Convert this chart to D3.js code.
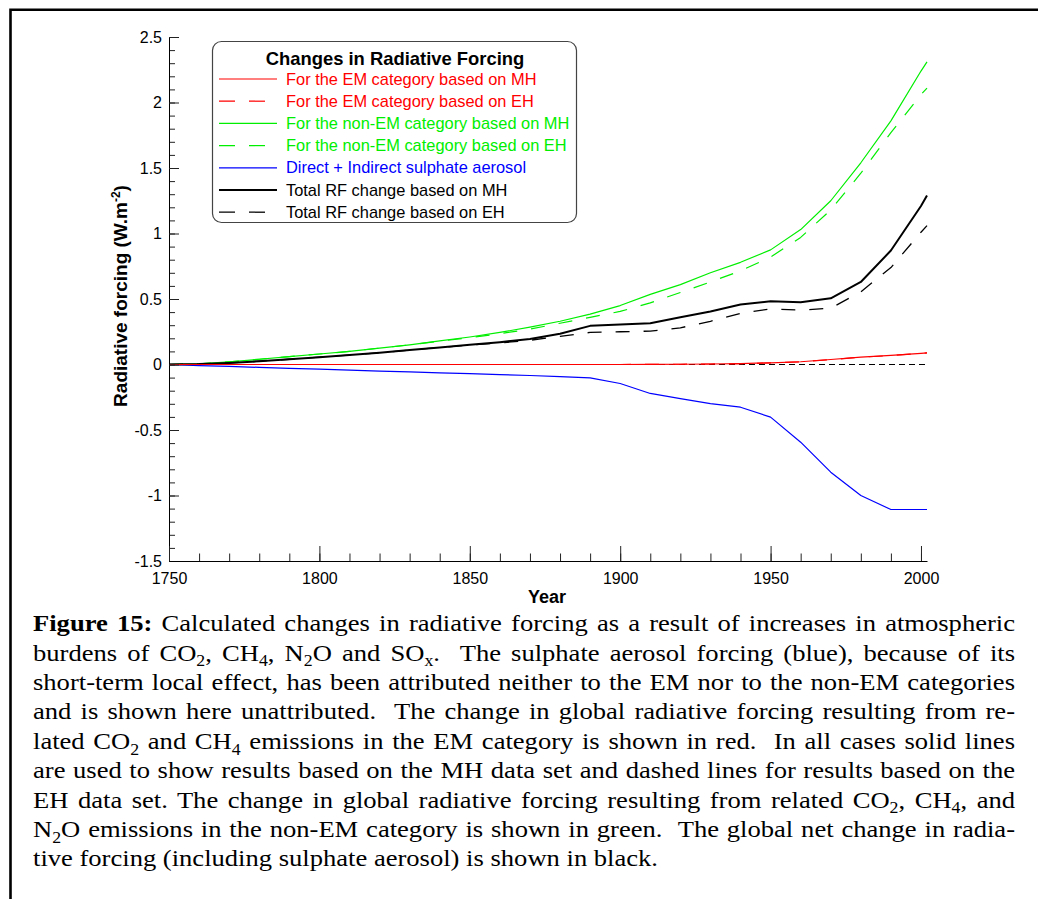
<!DOCTYPE html>
<html>
<head>
<meta charset="utf-8">
<script src="https://cdn.jsdelivr.net/npm/d3@7"></script>
<style>
body { margin: 0; background: #fff; }
#wrap { position: relative; width: 1038px; height: 899px; overflow: hidden; }
#wrap svg { position: absolute; left: 0; top: 0; }
.caption {
    position: absolute; left: 33px;
    transform-origin: 0 0;
    line-height: 29.4px; color: #000;
}
.caption div { white-space: nowrap; height: 29.4px; }
.caption div span.ln { display: inline-block; }
.caption .sub { font-size: 0.67em; position: relative; top: 0.36em; }
</style>
</head>
<body>
<div id="wrap"></div>
<script>
// Jahre und Reihen (W/m2)
const years = [1750, 1760, 1770, 1780, 1790, 1800, 1810, 1820, 1830, 1840, 1850, 1860, 1870,
    1880, 1890, 1900, 1910, 1920, 1930, 1940, 1950, 1960, 1970, 1980, 1990, 2000, 2002];

const emMH = [0, 0, 0, 0, 0, 0, 0, 0, 0, 0, 0, 0, 0,
    0, 0, 0, 0.001, 0.002, 0.004, 0.007, 0.013, 0.021, 0.038, 0.057, 0.069, 0.085, 0.089];
const emEH = [0, 0, 0, 0, 0, 0, 0, 0, 0, 0, 0, 0, 0,
    0, 0, 0, 0.001, 0.002, 0.004, 0.006, 0.012, 0.020, 0.037, 0.056, 0.068, 0.084, 0.088];
const nonEmMH = [0, 0.005, 0.02, 0.04, 0.06, 0.08, 0.10, 0.125, 0.15, 0.18, 0.21, 0.245, 0.285,
    0.33, 0.385, 0.45, 0.535, 0.61, 0.70, 0.78, 0.875, 1.03, 1.25, 1.54, 1.86, 2.24, 2.31];
const nonEmEH = [0, 0.005, 0.02, 0.04, 0.06, 0.08, 0.10, 0.125, 0.15, 0.178, 0.205, 0.235, 0.27,
    0.315, 0.36, 0.405, 0.47, 0.55, 0.63, 0.715, 0.82, 0.97, 1.18, 1.46, 1.77, 2.06, 2.11];
const sulphate = [0, -0.008, -0.015, -0.022, -0.03, -0.036, -0.043, -0.05, -0.057, -0.064, -0.07, -0.077, -0.084,
    -0.092, -0.102, -0.145, -0.221, -0.26, -0.298, -0.326, -0.402, -0.593, -0.822, -1.0, -1.107, -1.107, -1.107];
const totalMH = [0, 0.003, 0.012, 0.025, 0.04, 0.056, 0.072, 0.09, 0.11, 0.13, 0.15, 0.17, 0.195,
    0.235, 0.295, 0.305, 0.315, 0.36, 0.405, 0.458, 0.483, 0.475, 0.505, 0.63, 0.87, 1.21, 1.29];
const totalEH = [0, 0.003, 0.012, 0.025, 0.04, 0.056, 0.072, 0.09, 0.11, 0.13, 0.148, 0.165, 0.185,
    0.215, 0.245, 0.25, 0.255, 0.28, 0.33, 0.39, 0.425, 0.415, 0.43, 0.555, 0.74, 1.01, 1.06];

const xTicks = [1750, 1800, 1850, 1900, 1950, 2000];
const yTicks = [-1.5, -1, -0.5, 0, 0.5, 1, 1.5, 2, 2.5];

const legendTitle = "Changes in Radiative Forcing";

// Zeichenreihenfolge: unten zuerst
const series = [
    { label: "For the non-EM category based on EH", values: nonEmEH, color: "#00ee00", width: 1.2, dash: "14,14", order: 3 },
    { label: "For the non-EM category based on MH", values: nonEmMH, color: "#00ee00", width: 1.2, dash: null, order: 2 },
    { label: "Direct + Indirect sulphate aerosol", values: sulphate, color: "#0000ff", width: 1.2, dash: null, order: 4 },
    { label: "Total RF change based on EH", values: totalEH, color: "#000", width: 1.3, dash: "14,14", order: 6 },
    { label: "Total RF change based on MH", values: totalMH, color: "#000", width: 2, dash: null, order: 5 },
    { label: "For the EM category based on EH", values: emEH, color: "#ff0000", width: 1.2, dash: "14,14", order: 1 },
    { label: "For the EM category based on MH", values: emMH, color: "#ff0000", width: 1.2, dash: null, order: 0 }
];

const W = 1038, H = 899;
const svg = d3.select("#wrap").append("svg")
    .attr("width", W)
    .attr("height", H);

// Rahmen links und oben
svg.append("path")
    .attr("d", "M10.5,899 V9.7 H1038")
    .attr("fill", "none")
    .attr("stroke", "#000")
    .attr("stroke-width", 2.6);

const x = d3.scaleLinear().domain([1750, 2002]).range([169, 927]);
const y = d3.scaleLinear().domain([-1.5, 2.5]).range([561, 37]);

// Nulllinie gestrichelt
svg.append("line")
    .attr("x1", x(1750)).attr("x2", x(2002))
    .attr("y1", y(0)).attr("y2", y(0))
    .attr("stroke", "#000")
    .attr("stroke-width", 1)
    .attr("stroke-dasharray", "6,4");

const line = d3.line()
    .x(d => x(d[0]))
    .y(d => y(d[1]));

svg.append("g").selectAll("path")
    .data(series)
    .enter()
    .append("path")
    .attr("d", s => line(years.map((yr, i) => [yr, s.values[i]])))
    .attr("fill", "none")
    .attr("stroke", s => s.color)
    .attr("stroke-width", s => s.width)
    .attr("stroke-dasharray", s => s.dash)
    .attr("stroke-linejoin", "round");

// Achsen
const font = "'Liberation Sans', Arial, sans-serif";

const yMinor = svg.append("g")
    .attr("transform", `translate(${x(1750)},0)`)
    .call(d3.axisLeft(y).tickValues(d3.range(-1.5, 2.51, 0.1)).tickSize(-6).tickFormat(""));
yMinor.select(".domain").remove();

svg.append("g")
    .attr("transform", `translate(${x(1750)},0)`)
    .call(d3.axisLeft(y).tickValues(yTicks).tickSizeInner(-10).tickSizeOuter(0).tickPadding(7)
        .tickFormat(d => String(d)));

const xMinor = svg.append("g")
    .attr("transform", `translate(0,${y(-1.5)})`)
    .call(d3.axisBottom(x).tickValues(d3.range(1750, 2001, 10)).tickSize(-7.5).tickFormat(""));
xMinor.select(".domain").remove();

svg.append("g")
    .attr("transform", `translate(0,${y(-1.5)})`)
    .call(d3.axisBottom(x).tickValues(xTicks).tickSizeInner(-15).tickSizeOuter(0).tickPadding(12)
        .tickFormat(d => String(d)));

svg.selectAll(".tick line").attr("stroke", "#222");
svg.selectAll(".tick text")
    .attr("font-family", font)
    .attr("font-size", 16)
    .attr("fill", "#000");

// Achsentitel
svg.append("text")
    .attr("x", 547)
    .attr("y", 603)
    .attr("text-anchor", "middle")
    .attr("font-family", font)
    .attr("font-weight", "bold")
    .attr("font-size", 18)
    .text("Year");

const yTitle = svg.append("text")
    .attr("transform", "translate(127,296) rotate(-90)")
    .attr("text-anchor", "middle")
    .attr("font-family", font)
    .attr("font-weight", "bold")
    .attr("font-size", 19);
yTitle.append("tspan").text("Radiative forcing (W.m");
yTitle.append("tspan").attr("font-size", 12).attr("dy", -7).text("-2");
yTitle.append("tspan").attr("dy", 7).text(")");

// Legende
const legend = svg.append("g");
legend.append("rect")
    .attr("x", 212.5).attr("y", 41.5)
    .attr("width", 364).attr("height", 181)
    .attr("rx", 9)
    .attr("fill", "#fff")
    .attr("stroke", "#444")
    .attr("stroke-width", 1.2);

legend.append("text")
    .attr("x", 395).attr("y", 65)
    .attr("text-anchor", "middle")
    .attr("font-family", font)
    .attr("font-weight", "bold")
    .attr("font-size", 18.4)
    .text(legendTitle);

const rows = legend.selectAll(".row")
    .data(series.slice().sort((a, b) => a.order - b.order))
    .enter()
    .append("g")
    .attr("class", "row")
    .attr("transform", (d, i) => `translate(0,${79 + i * 22.2})`);

rows.append("line")
    .attr("x1", 219).attr("x2", 277)
    .attr("stroke", d => d.color)
    .attr("stroke-width", d => d.width)
    .attr("stroke-dasharray", d => d.dash ? "16,14" : null);

rows.append("text")
    .attr("x", 286).attr("y", 5.5)
    .attr("font-family", font)
    .attr("font-size", 16.4)
    .attr("fill", d => d.color)
    .text(d => d.label);

// Bildunterschrift (Blocksatz: Wortabstand je Zeile)
const captionLines = [
    "<b>Figure 15:</b> Calculated changes in radiative forcing as a result of increases in atmospheric",
    "burdens of CO<span class='sub'>2</span>, CH<span class='sub'>4</span>, N<span class='sub'>2</span>O and SO<span class='sub'>x</span>.&nbsp; The sulphate aerosol forcing (blue), because of its",
    "short-term local effect, has been attributed neither to the EM nor to the non-EM categories",
    "and is shown here unattributed.&nbsp; The change in global radiative forcing resulting from re-",
    "lated CO<span class='sub'>2</span> and CH<span class='sub'>4</span> emissions in the EM category is shown in red.&nbsp; In all cases solid lines",
    "are used to show results based on the MH data set and dashed lines for results based on the",
    "EH data set. The change in global radiative forcing resulting from related CO<span class='sub'>2</span>, CH<span class='sub'>4</span>, and",
    "N<span class='sub'>2</span>O emissions in the non-EM category is shown in green.&nbsp; The global net change in radia-",
    "tive forcing (including sulphate aerosol) is shown in black."
];

// Times-kompatible Schrift vorhanden? Sonst DejaVu Serif etwas kleiner
function hasFont(name) {
    const ctx = document.createElement("canvas").getContext("2d");
    const probe = "abcdefghijklmnopqrstuvwxyz ABCDEFGHIJKLMNOPQRSTUVWXYZ 0123456789";
    ctx.font = "40px monospace";
    const a = ctx.measureText(probe).width;
    ctx.font = `40px "${name}", monospace`;
    return Math.abs(ctx.measureText(probe).width - a) > 0.5;
}
const timesLike = ["Liberation Serif", "Times New Roman", "Times"].find(hasFont);
const capFont = timesLike ? `"${timesLike}", serif` : `"DejaVu Serif", serif`;
const capSize = timesLike ? 24 : 20.5;
const firstBaseline = 632;

const caption = d3.select("#wrap").append("div")
    .attr("class", "caption")
    .style("font-family", capFont)
    .style("font-size", capSize + "px");

const spans = caption.selectAll("div")
    .data(captionLines)
    .enter()
    .append("div")
    .append("span")
    .attr("class", "ln")
    .html(d => d);

// Grundlinie der ersten Zeile ausrichten
const probeCtx = document.createElement("canvas").getContext("2d");
probeCtx.font = `${capSize}px ${capFont}`;
const m = probeCtx.measureText("Hg");
const asc = m.fontBoundingBoxAscent, desc = m.fontBoundingBoxDescent;
const baseOffset = (29.4 - (asc + desc)) / 2 + asc;
caption.style("top", (firstBaseline - baseOffset) + "px");

const widths = spans.nodes().map(n => n.getBoundingClientRect().width);
const scale = 625 / widths[widths.length - 1];
const fullWidth = 982 / scale;
caption.style("transform", `scaleX(${scale})`);
spans.each(function (d, i) {
    if (i === captionLines.length - 1) return;
    const gaps = (this.textContent.match(/[ \u00a0]/g) || []).length;
    d3.select(this).style("word-spacing", `${(fullWidth - widths[i]) / gaps}px`);
});
</script>
</body>
</html>
